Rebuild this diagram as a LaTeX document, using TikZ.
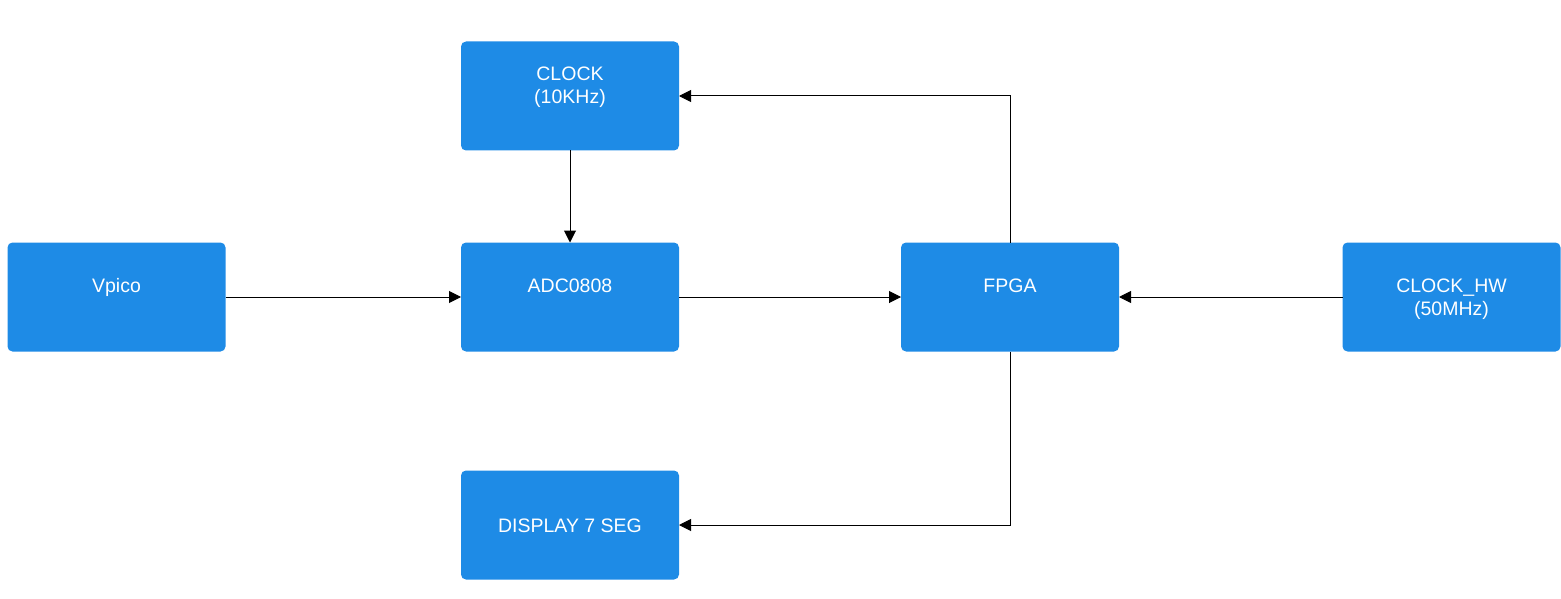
\documentclass[tikz,border=0pt]{standalone}
\usepackage{fontspec}
\setmainfont{Liberation Sans}
\usetikzlibrary{arrows.meta}
\definecolor{boxblue}{RGB}{30,139,230}
\newcommand{\lnstrut}{\rule[-4.3pt]{0pt}{23pt}}
\begin{document}
\begin{tikzpicture}[x=1pt,y=1pt,yscale=-1,xscale=1,
  block/.style={fill=boxblue,draw=none,rounded corners=5pt,minimum width=218pt,minimum height=109pt,inner sep=0pt,outer sep=0pt,align=center,text=white,font=\fontsize{19.5}{23}\selectfont},
  link/.style={draw=black,line width=1pt,-{Triangle[length=12pt,width=12pt]}}]
\useasboundingbox (0,0) rectangle (1561,599);

%Shape: Rectangle [Vpico]
\node [block] (vpico) at (116.5,297) {Vpico\lnstrut\\\lnstrut};
%Shape: Rectangle [CLOCK]
\node [block] (clock) at (570,96) {CLOCK\lnstrut\\(10KHz)\lnstrut\\\lnstrut};
%Shape: Rectangle [ADC0808]
\node [block] (adc) at (570,297) {ADC0808\lnstrut\\\lnstrut};
%Shape: Rectangle [FPGA]
\node [block] (fpga) at (1010,297) {FPGA\lnstrut\\\lnstrut};
%Shape: Rectangle [CLOCK_HW]
\node [block] (clockhw) at (1451.5,297) {CLOCK\_HW\lnstrut\\(50MHz)\lnstrut};
%Shape: Rectangle [DISPLAY]
\node [block] (display) at (570,525) {DISPLAY 7 SEG\lnstrut};

%Straight Lines
\draw [link] (vpico) -- (adc);
\draw [link] (clock) -- (adc);
\draw [link] (adc) -- (fpga);
\draw [link] (clockhw) -- (fpga);
%Elbow Lines
\draw [link] (fpga.north) |- (clock.east);
\draw [link] (fpga.south) |- (display.east);

\end{tikzpicture}
\end{document}
